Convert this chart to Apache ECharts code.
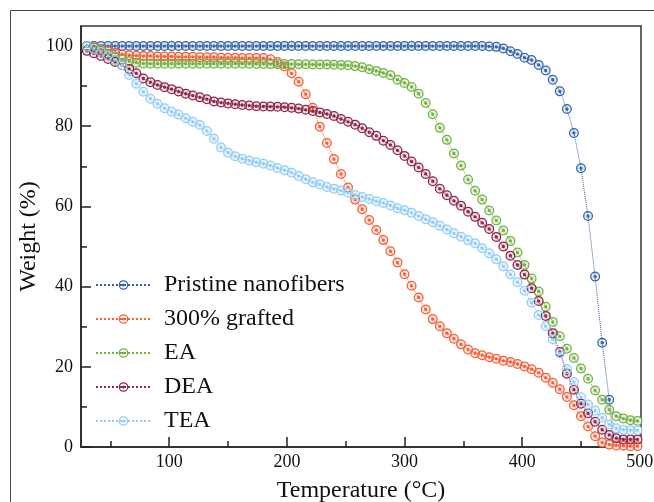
<!DOCTYPE html>
<html>
<head>
<meta charset="utf-8">
<title>TGA curves</title>
<script src="https://cdn.jsdelivr.net/npm/echarts@6/dist/echarts.min.js"></script>
<style>
  html, body { margin: 0; padding: 0; background: #fff; }
  #chart { width: 654px; height: 502px; }
</style>
</head>
<body>
<div id="chart"></div>
<script>
// temperature (°C) of every sampled point
var temps = [
    30, 36, 42, 48, 54, 60, 66, 72, 78, 84,
    90, 96, 102, 108, 114, 120, 126, 132, 138, 144,
    150, 156, 162, 168, 174, 180, 186, 192, 198, 204,
    210, 216, 222, 228, 234, 240, 246, 252, 258, 264,
    270, 276, 282, 288, 294, 300, 306, 312, 318, 324,
    330, 336, 342, 348, 354, 360, 366, 372, 378, 384,
    390, 396, 402, 408, 414, 420, 426, 432, 438, 444,
    450, 456, 462, 468, 474, 480, 486, 492, 498
];

// weight (%)
var pristine = [
    100, 100, 100, 100, 100, 100, 100, 100, 100, 100,
    100, 100, 100, 100, 100, 100, 100, 100, 100, 100,
    100, 100, 100, 100, 100, 100, 100, 100, 100, 100,
    100, 100, 100, 100, 100, 100, 100, 100, 100, 100,
    100, 100, 100, 100, 100, 100, 100, 100, 100, 100,
    100, 100, 100, 100, 100, 100, 100, 99.9, 99.8, 99.4,
    98.7, 98.0, 97.1, 96.5, 95.3, 93.9, 91.6, 88.7, 84.3, 78.3,
    69.5, 57.6, 42.5, 26.0, 11.8, -6, null, null, null
];
var grafted = [
    100, 99.7, 99.2, 98.7, 98.3, 97.9, 97.7, 97.6, 97.5, 97.5,
    97.4, 97.4, 97.4, 97.3, 97.3, 97.3, 97.2, 97.2, 97.2, 97.1,
    97.1, 97.1, 97.0, 97.0, 97.0, 97.0, 96.7, 96.0, 94.9, 93.2,
    91.1, 88.0, 84.6, 79.9, 75.8, 71.8, 68.1, 64.7, 61.7, 59.3,
    56.6, 54.1, 51.6, 48.8, 46.0, 43.1, 40.2, 37.3, 34.3, 31.9,
    30.1, 28.4, 27.0, 25.6, 24.3, 23.4, 22.9, 22.4, 22.0, 21.5,
    21.2, 20.7, 20.1, 19.4, 18.5, 17.3, 16.0, 14.4, 12.5, 10.4,
    7.7, 5.1, 2.7, 1.1, 0.6, 0.4, 0.3, 0.2, 0.2
];
var ea = [
    100, 99.5, 98.9, 98.1, 97.3, 96.7, 96.2, 95.85, 95.65, 95.6,
    95.6, 95.6, 95.6, 95.6, 95.6, 95.6, 95.6, 95.6, 95.6, 95.6,
    95.6, 95.6, 95.6, 95.6, 95.55, 95.55, 95.5, 95.5, 95.5, 95.5,
    95.45, 95.45, 95.4, 95.4, 95.4, 95.35, 95.3, 95.2, 95.0, 94.7,
    94.2, 93.8, 93.3, 92.7, 91.6, 90.8, 89.8, 88.1, 85.8, 83.0,
    79.6, 76.6, 73.2, 70.2, 66.7, 63.9, 61.7, 59.0, 56.5, 54.0,
    51.4, 48.5, 45.4, 42.0, 38.8, 35.0, 31.2, 27.6, 24.5, 22.2,
    19.6, 17.0, 14.1, 11.8, 9.3, 7.7, 7.1, 6.7, 6.5
];
var dea = [
    98.8, 98.2, 97.5, 96.8, 96.0, 95.2, 94.3, 93.2, 91.9, 91.0,
    90.3, 89.75, 89.25, 88.65, 88.1, 87.65, 87.2, 86.75, 86.2, 85.9,
    85.7, 85.5, 85.3, 85.15, 85.0, 84.95, 84.9, 84.85, 84.75, 84.6,
    84.4, 84.1, 83.8, 83.45, 83.05, 82.55, 81.8, 81.1, 80.4, 79.5,
    78.5, 77.6, 76.4, 75.35, 74.0, 72.6, 71.2, 69.7, 68.1, 66.3,
    64.4, 62.8, 61.4, 60.2, 58.7, 57.4, 55.9, 54.4, 52.4, 50.0,
    47.7, 45.4, 43.0, 39.6, 36.4, 32.7, 28.4, 23.7, 18.3, 14.3,
    10.8, 8.4, 6.3, 4.3, 3.0, 2.2, 1.9, 1.9, 1.9
];
var tea = [
    99.9, 99.3, 98.6, 97.6, 96.5, 95.2, 92.8, 90.6, 88.6, 86.85,
    85.6, 84.5, 83.6, 82.9, 82.0, 81.1, 80.3, 78.8, 76.9, 74.7,
    73.4, 72.5, 71.9, 71.45, 71.0, 70.65, 70.2, 69.6, 69.05, 68.4,
    67.6, 66.8, 66.0, 65.5, 64.85, 64.4, 63.95, 63.4, 62.85, 62.35,
    61.85, 61.3, 60.85, 60.25, 59.55, 59.05, 58.4, 57.6, 56.8, 56.05,
    55.15, 54.25, 53.3, 52.45, 51.6, 50.8, 49.6, 48.3, 46.8, 45.05,
    43.05, 41.1, 39.0, 36.0, 32.9, 30.1, 26.9, 23.4, 19.4, 16.2,
    12.4, 10.6, 9.05, 7.3, 5.6, 4.65, 4.3, 4.2, 4.2
];

var names = ['Pristine nanofibers', '300% grafted', 'EA', 'DEA', 'TEA'];
var xMajor = [100, 200, 300, 400, 500];
var xMinor = [50, 150, 250, 350, 450];
var yMajor = [0, 20, 40, 60, 80, 100];
var yMinor = [10, 30, 50, 70, 90];

var serif = 'Liberation Serif';
// ring with a dot in the middle
var RING = 'path://M10,0A10,10 0 1,1 10,20A10,10 0 1,1 10,0Z' +
    'M10,2.5A7.5,7.5 0 1,0 10,17.5A7.5,7.5 0 1,0 10,2.5Z' +
    'M10,6.7A3.3,3.3 0 1,1 10,13.3A3.3,3.3 0 1,1 10,6.7Z';

function pairs(vals) {
    return temps.map(function (t, i) { return [t, vals[i]]; });
}

function makeSeries(name, vals, ring, pale) {
    return [{
        name: name,
        type: 'line',
        data: pairs(vals),
        z: 3,
        symbol: RING,
        symbolSize: 10,
        symbolKeepAspect: true,
        itemStyle: { color: ring },
        lineStyle: { color: ring, width: 1, type: 'dotted' },
        emphasis: { disabled: true }
    }, {
        name: name,
        type: 'line',
        data: pairs(vals),
        z: 2,
        symbol: 'circle',
        symbolSize: 9,
        itemStyle: { color: pale },
        lineStyle: { width: 0, opacity: 0 },
        silent: true,
        emphasis: { disabled: true }
    }];
}

var series = [].concat(
    makeSeries(names[0], pristine, '#3866a3', '#dde7f3'),
    makeSeries(names[1], grafted, '#f0603a', '#fde2d9'),
    makeSeries(names[2], ea, '#74b046', '#e5f1db'),
    makeSeries(names[3], dea, '#8a2848', '#eedbe2'),
    makeSeries(names[4], tea, '#92cdf3', '#e7f4fd')
);

var chart = echarts.init(document.getElementById('chart'));
chart.setOption({
    animation: false,
    backgroundColor: '#fff',
    textStyle: { fontFamily: serif },
    graphic: [{
        type: 'rect',
        silent: true,
        z: -1,
        shape: { x: 10.5, y: 10.5, width: 700, height: 600 },
        style: { fill: 'none', stroke: '#444', lineWidth: 1 }
    }],
    grid: {
        left: 81, right: 13, top: 26, bottom: 55,
        show: true,
        borderColor: '#333',
        borderWidth: 1.5,
        outerBoundsMode: 'none'
    },
    legend: {
        orient: 'vertical',
        left: 95,
        top: 273,
        padding: 0,
        itemWidth: 55,
        itemHeight: 12,
        itemGap: 10,
        selectedMode: false,
        data: names,
        textStyle: { fontSize: 24, fontFamily: serif, color: '#111', padding: [0, 0, 0, 8] }
    },
    xAxis: [{
        type: 'value',
        min: 25, max: 501,
        name: 'Temperature (°C)',
        nameLocation: 'middle',
        nameGap: 32,
        nameMoveOverlap: false,
        nameTextStyle: { fontSize: 24, fontFamily: serif, color: '#111' },
        axisLine: { show: true, lineStyle: { color: '#222', width: 1.5 } },
        axisTick: { show: true, inside: true, length: 10, customValues: xMajor,
            lineStyle: { color: '#222', width: 1.5 } },
        axisLabel: { customValues: xMajor, fontSize: 18, fontFamily: serif, color: '#111', margin: 6 },
        splitLine: { show: false }
    }, {
        type: 'value',
        position: 'bottom',
        min: 25, max: 501,
        axisLine: { show: false },
        axisTick: { show: true, inside: true, length: 6, customValues: xMinor,
            lineStyle: { color: '#222', width: 1.5 } },
        axisLabel: { show: false },
        splitLine: { show: false }
    }],
    yAxis: [{
        type: 'value',
        min: 0, max: 105,
        name: 'Weight (%)',
        nameLocation: 'middle',
        nameGap: 40,
        nameMoveOverlap: false,
        nameTextStyle: { fontSize: 24, fontFamily: serif, color: '#111' },
        axisLine: { show: true, lineStyle: { color: '#222', width: 1.5 } },
        axisTick: { show: true, inside: true, length: 10, customValues: yMajor,
            lineStyle: { color: '#222', width: 1.5 } },
        axisLabel: { customValues: yMajor, fontSize: 18, fontFamily: serif, color: '#111', margin: 8 },
        splitLine: { show: false }
    }, {
        type: 'value',
        position: 'left',
        min: 0, max: 105,
        axisLine: { show: false },
        axisTick: { show: true, inside: true, length: 6, customValues: yMinor,
            lineStyle: { color: '#222', width: 1.5 } },
        axisLabel: { show: false },
        splitLine: { show: false }
    }],
    series: series
});
</script>
</body>
</html>
